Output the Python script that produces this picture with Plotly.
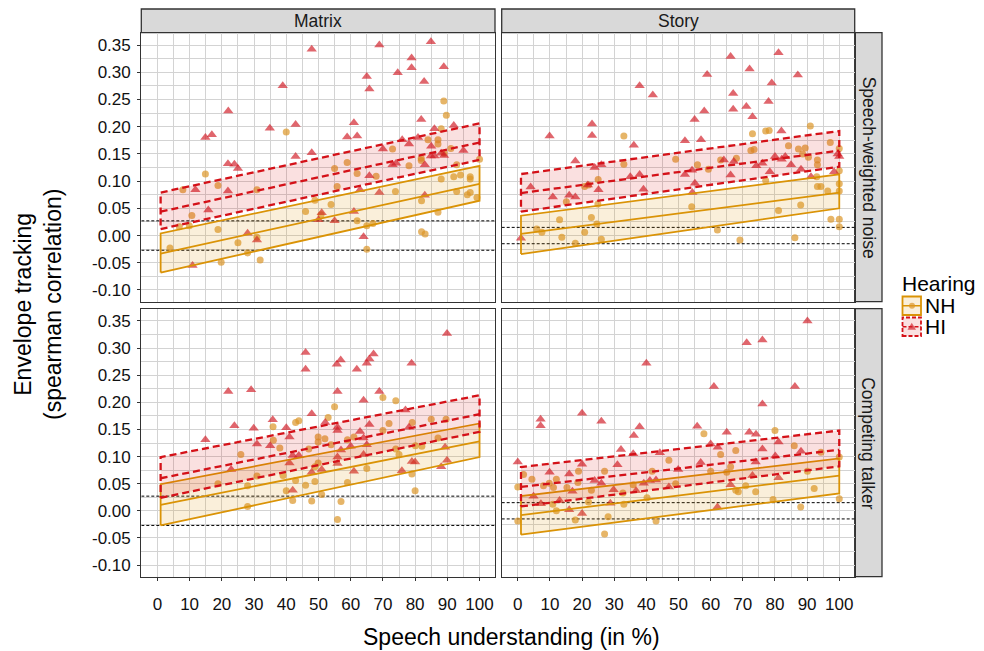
import plotly.graph_objects as go

# ---------------- data ----------------
x_ticks = [0, 10, 20, 30, 40, 50, 60, 70, 80, 90, 100]
x_labels = ["0", "10", "20", "30", "40", "50", "60", "70", "80", "90", "100"]
y_ticks = [-0.10, -0.05, 0.00, 0.05, 0.10, 0.15, 0.20, 0.25, 0.30, 0.35]
y_labels = ["-0.10", "-0.05", "0.00", "0.05", "0.10", "0.15", "0.20", "0.25", "0.30", "0.35"]

materials = ["Matrix", "Story"]
noises = ["Speech-weighted noise", "Competing talker"]
groups = ["NH", "HI"]

# significance thresholds per material (dotted lines)
sig_level = {"Matrix": 0.027, "Story": 0.015}

# points: (speech understanding %, envelope tracking)
mat_swn_nh = [(88.9, .247), (89.7, .221), (40.0, .190), (88.1, .196), (87.1, .176), (84.0, .176), (87.1, .168),
              (91.1, .160), (73.0, .159), (81.9, .142), (81.9, .138), (89.0, .151), (92.9, .130), (58.9, .134),
              (55.0, .123), (62.0, .114), (67.9, .109), (78.1, .128), (88.1, .104), (92.0, .108), (94.1, .111),
              (97.1, .108), (97.1, .104), (100, .140), (92.9, .081), (96.2, .075), (97.1, .079), (99.2, .070),
              (73.9, .081), (55.8, .090), (14.9, .113), (18.8, .092), (7.9, .084), (30.9, .084), (48.9, .065),
              (53.9, .057), (46.0, .044), (50.8, .038), (10.7, .037), (82.0, .064), (87.1, .043), (9.9, .018),
              (6.8, .016), (18.8, .011), (62.0, .027), (65.0, .018), (66.9, .022), (25.0, -.013), (30.9, -.003),
              (28.0, -.032), (3.9, -.023), (19.8, -.049), (31.9, -.045), (65.0, -.025), (82.0, .007), (83.1, .003)]
mat_swn_hi = [(47.9, .342), (68.9, .350), (84.9, .356), (78.9, .326), (78.9, .308), (88.9, .310), (65.0, .292),
              (74.6, .299), (65.8, .269), (82.8, .283), (38.9, .275), (22.0, .229), (14.9, .180), (16.9, .185),
              (34.9, .197), (42.9, .204), (61.0, .207), (58.9, .181), (62.0, .183), (81.9, .213), (86.0, .196),
              (92.0, .202), (70.0, .159), (76.0, .176), (78.1, .168), (80.9, .180), (85.0, .164), (84.9, .146),
              (86.0, .146), (88.1, .151), (89.0, .147), (95.0, .156), (42.9, .145), (47.9, .152), (21.9, .132),
              (23.9, .131), (25.0, .123), (11.8, .084), (21.9, .082), (15.8, .047), (65.8, .110), (68.9, .079),
              (73.0, .130), (74.1, .133), (83.0, .130), (83.0, .074), (62.9, .084), (51.0, .042), (50.0, .029),
              (55.0, .027), (61.0, .044), (28.0, .004), (30.9, -.008), (10.9, -.055), (64.0, -.002)]
sto_swn_nh = [(33.0, .183), (73.0, .187), (77.1, .192), (78.2, .193), (91.0, .201), (97.2, .171), (100, .160),
              (72.5, .156), (73.5, .158), (68.0, .142), (84.2, .165), (87.3, .159), (89.4, .161), (88.6, .150),
              (90.4, .144), (93.2, .139), (93.2, .130), (49.1, .140), (55.9, .130), (59.3, .122), (63.1, .139),
              (33.0, .131), (25.0, .103), (20.8, .090), (22.0, .093), (15.1, .062), (24.9, .058), (77.1, .101),
              (93.0, .108), (93.2, .090), (94.3, .090), (96.4, .082), (100, .119), (100, .095), (100, .082),
              (54.1, .053), (81.1, .046), (88.0, .056), (13.0, .029), (22.9, .033), (24.6, .021), (5.9, .012),
              (7.5, .006), (13.7, -.003), (17.9, -.014), (20.8, .006), (26.0, -.007), (62.1, .010), (69.1, -.008),
              (86.2, -.004), (97.4, .030), (100, .030), (100, .016)]
sto_swn_hi = [(66.2, .329), (81.1, .336), (72.1, .306), (58.9, .296), (87.1, .295), (79.0, .280), (37.9, .275),
              (42.0, .258), (67.0, .261), (67.0, .232), (71.1, .237), (78.0, .246), (73.0, .218), (55.0, .213),
              (58.0, .229), (23.1, .205), (23.1, .184), (9.9, .183), (36.1, .166), (52.0, .174), (57.0, .176),
              (82.0, .192), (17.9, .137), (23.9, .125), (26.0, .130), (35.0, .108), (37.9, .112), (52.0, .112),
              (54.2, .120), (55.1, .096), (66.2, .111), (64.1, .139), (67.2, .136), (74.2, .128), (76.1, .133),
              (78.4, .117), (80.0, .145), (82.1, .140), (83.2, .145), (85.0, .130), (88.1, .122), (91.2, .108),
              (98.4, .117), (99.5, .150), (100, .145), (4.0, .089), (10.9, .071), (16.0, .074), (17.9, .071),
              (21.8, .093), (25.1, .084), (39.1, .085), (54.3, .079), (1.0, -.005)]
mat_ct_nh = [(70.0, .209), (74.0, .203), (55.0, .192), (53.0, .172), (35.9, .155), (42.9, .163), (43.9, .166),
             (79.1, .163), (85.0, .169), (89.6, .169), (71.9, .161), (70.0, .148), (47.0, .114), (49.9, .136),
             (52.0, .133), (49.9, .127), (53.9, .122), (59.0, .131), (61.0, .136), (87.1, .134), (80.1, .120),
             (82.1, .119), (74.0, .114), (75.0, .104), (36.0, .130), (38.0, .116), (25.9, .104), (65.0, .078),
             (49.9, .088), (48.9, .081), (39.0, .065), (30.9, .064), (18.8, .050), (28.0, .046), (42.9, .056),
             (48.9, .054), (46.0, .047), (40.0, .037), (51.0, .030), (59.0, .052), (79.0, .068), (80.0, .037),
             (42.0, .019), (47.9, .018), (57.0, .017), (28.0, .008), (55.9, -.016)]
mat_ct_hi = [(89.9, .327), (46.0, .292), (46.0, .261), (56.9, .278), (55.7, .270), (65.0, .272), (65.8, .280),
             (67.1, .289), (61.9, .261), (78.9, .272), (22.0, .220), (29.1, .223), (55.9, .220), (68.9, .220),
             (64.0, .204), (47.9, .179), (52.1, .163), (77.0, .186), (35.8, .168), (23.9, .157), (29.9, .152),
             (40.0, .153), (14.9, .131), (30.9, .123), (35.0, .120), (41.0, .136), (55.9, .154), (55.9, .148),
             (62.9, .146), (65.8, .159), (64.0, .134), (57.0, .112), (60.0, .119), (65.0, .122), (64.0, .104),
             (78.1, .154), (89.3, .117), (42.0, .102), (43.9, .102), (41.0, .088), (22.9, .076), (47.9, .071),
             (51.0, .076), (55.9, .087), (61.0, .073), (75.9, .074), (79.0, .091), (80.0, .090), (88.1, .081),
             (89.9, .093), (42.0, .038), (55.9, .099)]
sto_ct_nh = [(80.0, .148), (57.9, .142), (86.0, .120), (94.3, .108), (67.8, .111), (63.1, .104), (100, .099),
             (47.0, .093), (1.8, .067), (4.4, .058), (18.9, .073), (27.0, .073), (12.0, .058), (9.8, .051),
             (8.0, .046), (11.1, .043), (15.3, .043), (18.7, .052), (22.9, .038), (32.7, .033), (35.9, .048),
             (41.8, .073), (49.1, .050), (60.0, .073), (65.0, .071), (66.2, .081), (67.8, .038), (70.9, .046),
             (68.6, .035), (74.0, .035), (90.1, .073), (92.2, .041), (0.0, .044), (0.0, -.019), (12.0, .000),
             (17.9, -.017), (10.9, .012), (22.0, .016), (33.0, .012), (40.2, .024), (43.0, -.019), (27.0, -.043),
             (28.1, -.011), (79.4, .021), (88.0, .007), (100, .022)]
sto_ct_hi = [(90.1, .350), (71.2, .310), (76.1, .315), (40.0, .272), (61.0, .229), (86.2, .229), (76.1, .197),
             (7.1, .169), (7.1, .157), (20.0, .180), (26.0, .165), (37.9, .155), (36.1, .139), (55.8, .156),
             (65.0, .145), (72.0, .145), (74.1, .141), (60.0, .123), (62.2, .117), (76.1, .114), (81.1, .127),
             (80.1, .101), (88.1, .110), (32.1, .113), (35.9, .105), (44.2, .107), (0.0, .090), (9.9, .071),
             (16.0, .068), (20.0, .086), (31.0, .085), (49.9, .076), (56.9, .089), (66.2, .048), (74.0, .090),
             (73.0, .065), (81.1, .061), (23.9, .056), (26.0, .051), (29.8, .039), (36.8, .037), (39.2, .051),
             (41.1, .056), (43.0, .057), (47.0, .044), (17.0, .036), (13.0, .019), (7.2, .013), (4.9, .027),
             (28.8, .014), (16.0, .002), (20.0, -.005), (62.1, .007)]

# model fits: value at fit_x for lower CI, estimate, upper CI
fit_x = [1, 100]
fit_mat_swn_nh = {"lo": [-0.068, 0.064], "mid": [-0.033, 0.095], "hi": [0.004, 0.128]}
fit_mat_swn_hi = {"lo": [0.012, 0.139], "mid": [0.044, 0.171], "hi": [0.079, 0.206]}
fit_sto_swn_nh = {"lo": [-0.034, 0.050], "mid": [0.003, 0.079], "hi": [0.0365, 0.1125]}
fit_sto_swn_hi = {"lo": [0.044, 0.1265], "mid": [0.078, 0.156], "hi": [0.113, 0.192]}
fit_mat_ct_nh = {"lo": [-0.027, 0.099], "mid": [0.011, 0.128], "hi": [0.049, 0.161]}
fit_mat_ct_hi = {"lo": [0.024, 0.1455], "mid": [0.060, 0.178], "hi": [0.099, 0.213]}
fit_sto_ct_nh = {"lo": [-0.044, 0.032], "mid": [-0.008, 0.065], "hi": [0.027, 0.0965]}
fit_sto_ct_hi = {"lo": [0.008, 0.082], "mid": [0.044, 0.1125], "hi": [0.0806, 0.148]}

panel_points = {
    ("Speech-weighted noise", "Matrix"): {"NH": mat_swn_nh, "HI": mat_swn_hi},
    ("Speech-weighted noise", "Story"): {"NH": sto_swn_nh, "HI": sto_swn_hi},
    ("Competing talker", "Matrix"): {"NH": mat_ct_nh, "HI": mat_ct_hi},
    ("Competing talker", "Story"): {"NH": sto_ct_nh, "HI": sto_ct_hi},
}
panel_fits = {
    ("Speech-weighted noise", "Matrix"): {"NH": fit_mat_swn_nh, "HI": fit_mat_swn_hi},
    ("Speech-weighted noise", "Story"): {"NH": fit_sto_swn_nh, "HI": fit_sto_swn_hi},
    ("Competing talker", "Matrix"): {"NH": fit_mat_ct_nh, "HI": fit_mat_ct_hi},
    ("Competing talker", "Story"): {"NH": fit_sto_ct_nh, "HI": fit_sto_ct_hi},
}

# ---------------- style ----------------
# page body has an 8px margin: the figure starts at (8, 8) in the window
OFF = 8
W, H = 984 - OFF, 651 - OFF
FONT = "Liberation Sans, Arial, sans-serif"
col_px = [(141.3, 495.0), (501.7, 854.7)]
row_px = [(32.7, 301.7), (308.7, 576.7)]
X_RANGE = [-5.0, 104.8]
Y_RANGE = [-0.1215, 0.3726]

style = {
    "NH": dict(line="#DA9306", fill="rgba(222,145,10,0.15)", pt="rgba(220,150,40,0.7)",
               symbol="circle", size=7, dash="solid", width=1.8),
    "HI": dict(line="#D41118", fill="rgba(215,0,0,0.12)", pt="rgba(210,30,40,0.68)",
               symbol="triangle-up", size=9, dash="7px,4px", width=2.3),
}


def fx(p):
    return (p - OFF) / W


def fy(p):
    return 1 - (p - OFF) / H


fig = go.Figure()
layout_axes = {}
shapes = []
annotations = []

for r, noise in enumerate(noises):
    for c, mat in enumerate(materials):
        idx = r * 2 + c + 1
        xa = "x" if idx == 1 else f"x{idx}"
        ya = "y" if idx == 1 else f"y{idx}"
        key = (noise, mat)

        # significance thresholds
        for s in (sig_level[mat], -sig_level[mat]):
            fig.add_trace(go.Scatter(x=[X_RANGE[0], X_RANGE[1]], y=[s, s], mode="lines",
                                     line=dict(color="black", width=1, dash="3px,2px"),
                                     xaxis=xa, yaxis=ya, showlegend=False, hoverinfo="skip"))
        # points
        for g in groups:
            st = style[g]
            pts = panel_points[key][g]
            fig.add_trace(go.Scatter(
                x=[min(p[0], 100) for p in pts], y=[p[1] for p in pts], mode="markers",
                marker=dict(symbol=st["symbol"], size=st["size"], color=st["pt"], line=dict(width=0)),
                xaxis=xa, yaxis=ya, showlegend=False))
        # ribbons + fits
        for g in groups:
            st = style[g]
            f = panel_fits[key][g]
            rx = [fit_x[0], fit_x[1], fit_x[1], fit_x[0], fit_x[0]]
            ry = [f["lo"][0], f["lo"][1], f["hi"][1], f["hi"][0], f["lo"][0]]
            fig.add_trace(go.Scatter(x=rx, y=ry, mode="lines", fill="toself", fillcolor=st["fill"],
                                     line=dict(color=st["line"], width=st["width"], dash=st["dash"]),
                                     xaxis=xa, yaxis=ya, showlegend=False, hoverinfo="skip"))
            fig.add_trace(go.Scatter(x=fit_x, y=f["mid"], mode="lines",
                                     line=dict(color=st["line"], width=st["width"], dash=st["dash"]),
                                     xaxis=xa, yaxis=ya, showlegend=False, hoverinfo="skip"))

        x0, x1 = col_px[c]
        y0, y1 = row_px[r]
        bottom = (r == 1)
        left = (c == 0)
        axname_x = "xaxis" if idx == 1 else f"xaxis{idx}"
        axname_y = "yaxis" if idx == 1 else f"yaxis{idx}"
        layout_axes[axname_x] = dict(
            domain=[fx(x0), fx(x1)], range=X_RANGE, anchor=ya,
            tickmode="array", tickvals=x_ticks, ticktext=x_labels,
            showticklabels=bottom, ticks="outside" if bottom else "", ticklen=3,
            tickcolor="#333333", tickwidth=1, ticklabelstandoff=9,
            tickfont=dict(family=FONT, size=17, color="#111111"),
            showgrid=True, gridcolor="#D3D3D3", gridwidth=1.1,
            minor=dict(tickmode="linear", tick0=0, dtick=5, showgrid=True,
                       gridcolor="#D3D3D3", gridwidth=1.1, ticks=""),
            zeroline=False, showline=True, mirror=True, linecolor="#333333", linewidth=1.3,
            fixedrange=True)
        layout_axes[axname_y] = dict(
            domain=[fy(y1), fy(y0)], range=Y_RANGE, anchor=xa,
            tickmode="array", tickvals=y_ticks, ticktext=y_labels,
            showticklabels=left, ticks="outside" if left else "", ticklen=3,
            tickcolor="#333333", tickwidth=1, ticklabelstandoff=3,
            tickfont=dict(family=FONT, size=17, color="#111111"),
            showgrid=True, gridcolor="#D3D3D3", gridwidth=1.1,
            minor=dict(tickmode="linear", tick0=0, dtick=0.025, showgrid=True,
                       gridcolor="#D3D3D3", gridwidth=1.1, ticks=""),
            zeroline=False, showline=True, mirror=True, linecolor="#333333", linewidth=1.3,
            fixedrange=True)

# top strips
STRIP_TOP = 9.0
for c, mat in enumerate(materials):
    x0, x1 = col_px[c]
    shapes.append(dict(type="rect", xref="paper", yref="paper", x0=fx(x0), x1=fx(x1),
                       y0=fy(32.7), y1=fy(STRIP_TOP), fillcolor="#D9D9D9",
                       line=dict(color="#333333", width=1.3), layer="below"))
    annotations.append(dict(text=mat, xref="paper", yref="paper", x=fx((x0 + x1) / 2), y=fy(20.5),
                            showarrow=False, xanchor="center", yanchor="middle",
                            font=dict(family=FONT, size=17.5, color="#1A1A1A")))
# right strips
for r, noise in enumerate(noises):
    y0, y1 = row_px[r]
    shapes.append(dict(type="rect", xref="paper", yref="paper", x0=fx(854.7), x1=fx(882),
                       y0=fy(y1), y1=fy(y0), fillcolor="#D9D9D9",
                       line=dict(color="#333333", width=1.3), layer="below"))
    annotations.append(dict(text=noise, xref="paper", yref="paper", x=fx(868.5), y=fy((y0 + y1) / 2),
                            showarrow=False, xanchor="center", yanchor="middle", textangle=90,
                            font=dict(family=FONT, size=17.5, color="#1A1A1A")))

# axis titles
annotations.append(dict(text="Speech understanding (in %)", xref="paper", yref="paper",
                        x=fx(511), y=fy(637), showarrow=False, xanchor="center", yanchor="middle",
                        font=dict(family=FONT, size=23, color="black")))
annotations.append(dict(text="Envelope tracking<br>(spearman correlation)", xref="paper", yref="paper",
                        x=fx(38), y=fy(305), showarrow=False, xanchor="center", yanchor="middle",
                        textangle=-90, font=dict(family=FONT, size=23, color="black")))

# legend (manual)
annotations.append(dict(text="Hearing", xref="paper", yref="paper", x=fx(900), y=fy(283.5),
                        showarrow=False, xanchor="left", yanchor="middle",
                        font=dict(family=FONT, size=21, color="black")))
leg_rows = {"NH": (296.5, 315), "HI": (317.5, 336)}
for g in groups:
    st = style[g]
    ya0, ya1 = leg_rows[g]
    ym = (ya0 + ya1) / 2
    shapes.append(dict(type="rect", xref="paper", yref="paper", x0=fx(902.5), x1=fx(921),
                       y0=fy(ya1), y1=fy(ya0), fillcolor=st["fill"],
                       line=dict(color=st["line"], width=1.8,
                                 dash="solid" if g == "NH" else "4px,2px")))
    shapes.append(dict(type="line", xref="paper", yref="paper", x0=fx(902.5), x1=fx(921),
                       y0=fy(ym), y1=fy(ym), line=dict(color=st["line"], width=1.5,
                                                      dash="solid" if g == "NH" else "4px,2px")))
    if g == "NH":
        shapes.append(dict(type="circle", xref="paper", yref="paper", x0=fx(909), x1=fx(915),
                           y0=fy(ym + 3), y1=fy(ym - 3), fillcolor=st["pt"], line=dict(width=0)))
    else:
        path = (f"M {fx(907.5)},{fy(ym + 3)} L {fx(916)},{fy(ym + 3)} "
                f"L {fx(911.75)},{fy(ym - 4)} Z")
        shapes.append(dict(type="path", xref="paper", yref="paper", path=path,
                           fillcolor=st["pt"], line=dict(width=0)))
    annotations.append(dict(text=g, xref="paper", yref="paper", x=fx(922.5), y=fy(ym),
                            showarrow=False, xanchor="left", yanchor="middle",
                            font=dict(family=FONT, size=21, color="black")))

fig.update_layout(
    width=W, height=H, margin=dict(l=0, r=0, t=0, b=0),
    plot_bgcolor="white", paper_bgcolor="white", showlegend=False,
    font=dict(family=FONT), shapes=shapes, annotations=annotations,
    **layout_axes,
)

fig.write_html("out.html")
